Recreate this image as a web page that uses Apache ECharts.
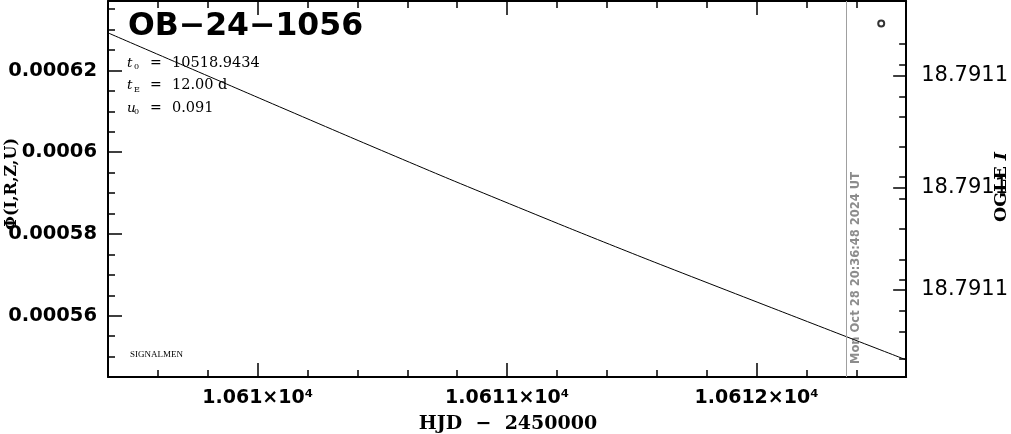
<!DOCTYPE html>
<html><head><meta charset="utf-8">
<script src="https://cdn.jsdelivr.net/npm/echarts@6/dist/echarts.min.js"></script>
<style>html,body{margin:0;padding:0;background:#fff}#c{width:1011px;height:434px}</style>
</head><body><div id="c"></div>
<script>
// ---- data ----
const modelHjd  = [10609.4, 10609.97, 10610.39, 10610.77, 10611.25, 10611.57, 10612.05, 10612.6];
const modelFlux = [0.0006292, 0.0006142, 0.0006032, 0.0005934, 0.0005814, 0.0005736, 0.0005622, 0.0005492];
const obsHjd  = [10612.5];
const obsFlux = [0.0006315];
const nowHjd = 10612.3589;
const nowLabel = 'Mon Oct 28 20:36:48 2024 UT';
const xRange = [10609.4, 10612.6];
const yRange = [0.000545, 0.000637];
const xMajorTicks = [10610, 10611, 10612];
const xTickLabels = ['1.061×10⁴', '1.0611×10⁴', '1.0612×10⁴'];
const xMinorTicks = [10609.6, 10609.8, 10610.2, 10610.4, 10610.6, 10610.8, 10611.2, 10611.4, 10611.6, 10611.8, 10612.2, 10612.4];
const yMajorTicks = [0.00056, 0.00058, 0.0006, 0.00062];
const yTickLabels = ['0.00056', '0.00058', '0.0006', '0.00062'];
const yMinorTicks = [0.00055, 0.000555, 0.000565, 0.00057, 0.000575, 0.000585, 0.00059, 0.000595, 0.000605, 0.00061, 0.000615, 0.000625, 0.00063, 0.000635];
const rightMajorTicks = [0.00061865, 0.00059124, 0.00056629];
const rightTickLabels = ['18.7911', '18.7911', '18.7911'];
const rightMinorTicks = [0.00062648, 0.00062134, 0.00061351, 0.00060862, 0.00060128, 0.00059394, 0.00058855, 0.00058121, 0.00057363, 0.00056873, 0.00056115, 0.00055601, 0.0005494];
const eventName = 'OB−24−1056';
const params = [['t', '0', '10518.9434'], ['t', 'E', '12.00 d'], ['u', '0', '0.091']];
const xTitle = 'HJD  −  2450000';
const yTitle = 'Φ(I,R,Z,U)';
const y2Title = ['OGLE ', 'I'];
const credit = 'SIGNALMEN';

// ---- chart ----
const chart = echarts.init(document.getElementById('c'), null, {renderer: 'canvas'});
const lookup = (vals, labels, tol) => v => { const i = vals.findIndex(t => Math.abs(t - v) < tol); return i >= 0 ? labels[i] : ''; };

function xAx(pos, ticks, len, labels, showLine) {
  return {
    type: 'value', position: pos, min: xRange[0], max: xRange[1],
    axisLine: {show: showLine, onZero: false, lineStyle: {color: '#000', width: 2}},
    axisTick: {show: true, inside: true, length: len, customValues: ticks, lineStyle: {color: '#000', width: 1.5}},
    axisLabel: labels ? {show: true, customValues: ticks, formatter: lookup(ticks, labels, 1e-6), margin: 12,
      color: '#000', fontFamily: 'DejaVu Sans', fontWeight: 'bold', fontSize: 19} : {show: false},
    splitLine: {show: false}
  };
}
function yAx(pos, ticks, len, labels, showLine, lblStyle) {
  return {
    type: 'value', position: pos, min: yRange[0], max: yRange[1],
    axisLine: {show: showLine, onZero: false, lineStyle: {color: '#000', width: 2}},
    axisTick: {show: true, inside: true, length: len, customValues: ticks, lineStyle: {color: '#000', width: 1.5}},
    axisLabel: labels ? Object.assign({show: true, customValues: ticks, formatter: lookup(ticks, labels, 1e-9), color: '#000'}, lblStyle) : {show: false},
    splitLine: {show: false}
  };
}

const option = {
  animation: false,
  backgroundColor: '#fff',
  grid: {left: 108, right: 104, top: 1, bottom: 57, containLabel: false},
  xAxis: [
    xAx('bottom', xMajorTicks, 14, xTickLabels, true),
    xAx('bottom', xMinorTicks, 7, null, false),
    xAx('top', xMajorTicks, 14, null, true),
    xAx('top', xMinorTicks, 7, null, false)
  ],
  yAxis: [
    yAx('left', yMajorTicks, 14, yTickLabels, true, {margin: 11, fontFamily: 'DejaVu Sans', fontWeight: 'bold', fontSize: 19.5}),
    yAx('left', yMinorTicks, 7, null, false),
    yAx('right', rightMajorTicks, 13, rightTickLabels, true, {margin: 15, fontFamily: 'DejaVu Sans', fontSize: 21}),
    yAx('right', rightMinorTicks, 7, null, false)
  ],
  series: [
    {
      type: 'line', xAxisIndex: 0, yAxisIndex: 0, showSymbol: false, smooth: 0.2,
      data: modelHjd.map((t, i) => [t, modelFlux[i]]),
      lineStyle: {color: '#000', width: 1}, silent: true,
      markLine: {silent: true, symbol: ['none', 'none'], label: {show: false},
        lineStyle: {color: '#a0a0a0', width: 1, type: 'solid'},
        data: [{xAxis: nowHjd}]}
    },
    {
      type: 'scatter', xAxisIndex: 0, yAxisIndex: 0, symbol: 'circle', symbolSize: 6,
      data: obsHjd.map((t, i) => [t, obsFlux[i]]),
      itemStyle: {color: '#fff', borderColor: '#000', borderWidth: 2}, silent: true
    }
  ]
};
chart.setOption(option);

const nowX = chart.convertToPixel({xAxisIndex: 0}, nowHjd);
const serif = 'DejaVu Serif';
const graphics = [
  {type: 'text', left: 128, top: 11, style: {text: eventName, font: 'bold 31.5px "DejaVu Sans"', fill: '#000'}}
];
params.forEach((p, i) => {
  graphics.push({type: 'text', x: 127, y: 63 + i * 22.5, style: {
    text: '{it|' + p[0] + '}{sub|' + p[1] + '}{eq|=}{n|' + p[2] + '}',
    verticalAlign: 'middle', align: 'left',
    rich: {
      it: {fontFamily: serif, fontStyle: 'italic', fontSize: 13.5, fill: '#000', lineHeight: 16, width: 7},
      sub: {fontFamily: serif, fontSize: 8, fill: '#000', verticalAlign: 'bottom', lineHeight: 12, width: 16},
      eq: {fontFamily: serif, fontSize: 14, fill: '#000', lineHeight: 16, width: 22},
      n: {fontFamily: serif, fontSize: 14.5, fill: '#000', lineHeight: 16}
    }
  }});
});
graphics.push(
  {type: 'text', x: 130, y: 355, style: {text: credit, font: '9px "Liberation Serif"', fill: '#000', verticalAlign: 'middle'}},
  {type: 'text', x: 508, y: 424, style: {text: xTitle, font: 'bold 19px "DejaVu Serif"', fill: '#000', align: 'center', verticalAlign: 'middle'}},
  {type: 'text', x: 12, y: 184, rotation: Math.PI / 2, style: {text: yTitle, font: 'bold 16px "DejaVu Serif"', fill: '#000', align: 'center', verticalAlign: 'middle'}},
  {type: 'text', x: 1001, y: 187, rotation: Math.PI / 2, style: {
    text: '{a|' + y2Title[0] + '}{b|' + y2Title[1] + '}', align: 'center', verticalAlign: 'middle',
    rich: {a: {fontFamily: serif, fontWeight: 'bold', fontSize: 17.5, fill: '#000'},
           b: {fontFamily: serif, fontWeight: 'bold', fontStyle: 'italic', fontSize: 17.5, fill: '#000'}}}},
  {type: 'text', x: nowX + 10, y: 364, rotation: Math.PI / 2, style: {text: nowLabel, font: 'bold 11.5px "DejaVu Sans"', fill: '#8c8c8c', align: 'left', verticalAlign: 'middle'}}
);
chart.setOption({graphic: graphics});
</script>
</body></html>
